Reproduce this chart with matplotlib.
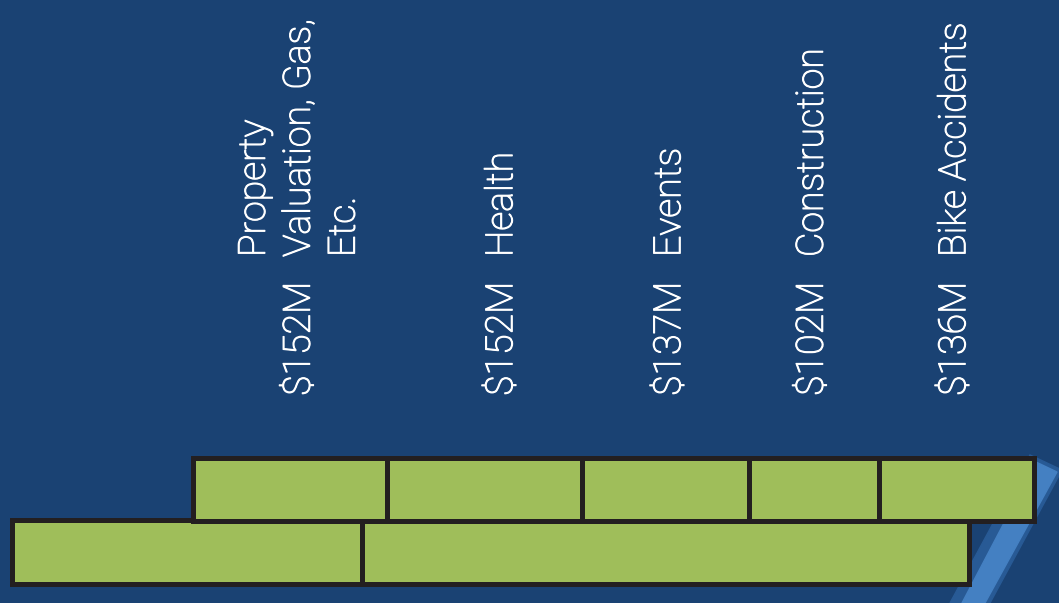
import matplotlib
matplotlib.use("Agg")
import matplotlib.pyplot as plt
import matplotlib.patheffects as pe
from matplotlib.patches import Polygon

# top bar: five categories with their amounts
top_labels = ["Property\nValuation, Gas,\nEtc.", "Health", "Events", "Construction", "Bike Accidents"]
top_amounts = ["$152M", "$152M", "$137M", "$102M", "$136M"]
# segment lengths as drawn in the picture (not strictly proportional to amounts)
top_widths = [194, 195, 167, 130, 155]
# bottom bar: two unlabeled segments
bottom_widths = [350, 607]

bg = "#1A4273"
green = "#9FBE5A"
edge = "#231F20"

fig = plt.figure(figsize=(10.59, 6.03), dpi=100, facecolor=bg)
ax = fig.add_axes([0, 0, 1, 1])
ax.set_facecolor(bg)
ax.set_xlim(0, 1059)
ax.set_ylim(603, 0)
ax.axis("off")

# decorative diagonal stripe bottom right
ax.add_patch(Polygon([(1030, 455), (1062, 470), (990, 603), (950, 603)],
                     closed=True, color="#285A95", zorder=0))
ax.add_patch(Polygon([(1036, 462), (1057, 472), (985, 603), (962, 603)],
                     closed=True, color="#4480C2", zorder=1))

# stacked bars
left = 193
for w in top_widths:
    ax.barh(489.5, w, left=left, height=63, color=green, edgecolor=edge,
            linewidth=3.6, zorder=3)
    left += w
left = 12
for w in bottom_widths:
    ax.barh(552, w, left=left, height=64, color=green, edgecolor=edge,
            linewidth=3.6, zorder=2)
    left += w

# Roboto Light thickened a touch to get close to the original's semi-light face
font = dict(family=["Roboto", "DejaVu Sans"], weight="light", color="white",
            fontsize=27,
            path_effects=[pe.withStroke(linewidth=0.8, foreground="white")])

# small nudges so the labels sit where the picture has them
nudges = [9, 17, 4, -2, -2]
left = 193
for lab, amt, w, dx in zip(top_labels, top_amounts, top_widths, nudges):
    xc = left + w / 2 + dx
    ax.text(xc, 396, amt, rotation=90, ha="center", va="bottom", **font)
    ax.text(xc, 257, lab, rotation=90, ha="center", va="bottom",
            multialignment="left", linespacing=1.25, **font)
    left += w

fig.savefig("out.png", dpi=100, facecolor=bg)
